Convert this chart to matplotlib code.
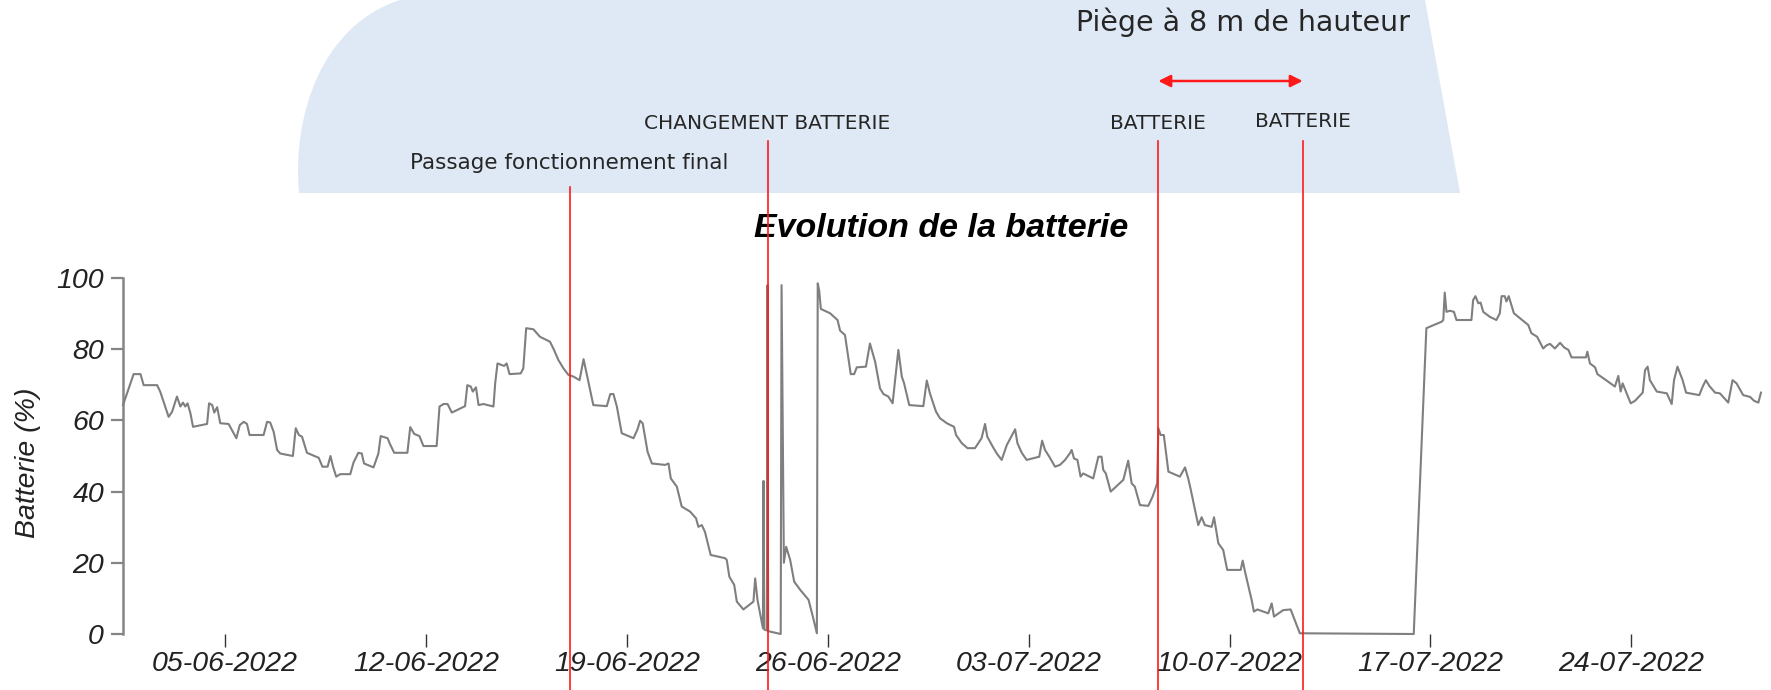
import matplotlib
matplotlib.use("Agg")
import matplotlib.pyplot as plt
import matplotlib.dates as mdates
import matplotlib.transforms as mtransforms
from matplotlib.path import Path
from matplotlib.patches import PathPatch
import pandas as pd

# battery level: days since 2022-06-01 00:00 / percent
start = pd.Timestamp("2022-06-01")

days_1 = [0.44, 0.81, 1.05, 1.16, 1.63, 1.74, 2.03, 2.15, 2.32, 2.44, 2.53, 2.61, 2.69, 2.79, 2.88,
          3.37, 3.44, 3.55, 3.62, 3.72, 3.83, 4.12, 4.39, 4.51, 4.65, 4.76, 4.85, 5.34, 5.46, 5.57,
          5.69, 5.81, 5.92, 6.36, 6.46, 6.57, 6.68, 6.85, 7.26, 7.39, 7.57, 7.67, 7.76, 7.87, 8.01, 8.36]
batt_1 = [64.3, 73.0, 73.0, 69.9, 69.9, 68.0, 61.0, 62.4, 66.7, 63.9, 65.0, 63.9, 64.8, 62.0, 58.2,
          59.0, 64.8, 64.3, 62.2, 63.7, 59.2, 59.0, 55.0, 58.7, 59.6, 59.0, 55.9, 55.9, 59.6, 59.4,
          56.8, 51.7, 50.7, 50.0, 57.8, 55.9, 55.4, 50.9, 49.5, 47.0, 47.0, 50.0, 47.0, 44.2, 44.9, 44.9]

days_2 = [8.47, 8.64, 8.76, 8.84, 9.17, 9.34, 9.42, 9.66, 9.73, 9.89, 10.35, 10.45, 10.59, 10.77, 10.91,
          11.37, 11.47, 11.61, 11.75, 11.90, 12.36, 12.44, 12.56, 12.63, 12.74, 12.83, 13.00, 13.35,
          13.41, 13.49, 13.72, 13.81, 13.91, 14.30, 14.39, 14.49, 14.74, 14.97, 15.32, 15.46, 15.61,
          15.79, 15.96, 16.14, 16.35, 16.49, 16.62, 16.72]
batt_2 = [48.1, 50.9, 50.7, 47.9, 46.8, 50.7, 55.6, 55.0, 53.6, 50.9, 50.9, 58.1, 56.2, 55.6, 52.8,
          52.8, 63.9, 64.6, 64.6, 62.2, 64.0, 69.9, 69.5, 68.1, 69.3, 64.3, 64.6, 63.9,
          70.4, 76.0, 75.3, 76.0, 73.0, 73.2, 74.6, 85.9, 85.6, 83.5, 82.1, 79.8, 77.0,
          74.6, 72.8, 72.3, 71.3, 77.2, 72.3, 68.5]

days_3 = [16.83, 17.30, 17.42, 17.53, 17.65, 17.82, 18.23, 18.37, 18.46, 18.55, 18.72, 18.87, 19.33,
          19.45, 19.53, 19.74, 19.91, 20.20, 20.41, 20.49, 20.61, 20.72, 20.92, 21.42, 21.48, 21.57,
          21.74, 21.83, 22.06, 22.41, 22.47, 22.55, 22.74, 22.76, 22.79, 22.88, 22.90, 22.92, 23.36,
          23.39, 23.47, 23.55, 23.69, 23.83, 24.04, 24.33, 24.48, 24.62, 24.65, 24.70, 24.76, 25.08]
batt_3 = [64.3, 64.0, 67.4, 67.4, 63.9, 56.4, 55.0, 57.5, 59.9, 59.2, 51.2, 47.9, 47.5,
          47.9, 43.7, 41.4, 35.8, 34.4, 32.5, 30.1, 30.6, 28.7, 22.2, 21.3, 20.8, 16.1,
          13.8, 9.1, 6.9, 9.1, 15.6, 9.6, 1.6, 43.0, 1.2, 1.0, 98.0, 0.8, 0.0,
          98.0, 20.0, 24.5, 20.8, 14.7, 12.4, 9.6, 4.9, 0.2, 98.5, 96.5, 91.3, 90.1]

days_4 = [25.34, 25.43, 25.60, 25.80, 25.92, 26.01, 26.33, 26.47, 26.65, 26.82, 26.94, 27.11, 27.26,
          27.46, 27.58, 27.66, 27.84, 28.33, 28.45, 28.56, 28.77, 28.91, 29.15, 29.40, 29.47, 29.67,
          29.87, 30.13, 30.36, 30.48, 30.56, 30.75, 30.89, 31.06, 31.24, 31.53, 31.61, 31.76, 31.93,
          32.37, 32.47, 32.57, 32.72, 32.92, 33.09, 33.27, 33.44]
batt_4 = [88.2, 85.2, 84.0, 73.0, 73.0, 74.9, 75.1, 81.6, 76.5, 69.0, 67.4, 66.7, 64.8,
          79.8, 72.3, 70.4, 64.3, 64.0, 71.2, 67.6, 62.5, 60.6, 59.2, 58.2, 55.9, 53.6,
          52.2, 52.2, 55.0, 59.0, 55.4, 52.6, 50.7, 48.9, 53.1, 57.5, 53.6, 50.9, 48.9,
          49.8, 54.3, 51.7, 49.8, 47.0, 47.5, 48.9, 50.8]

days_5 = [33.50, 33.58, 33.70, 33.81, 33.90, 34.25, 34.43, 34.54, 34.60, 34.69, 34.86, 35.30, 35.47,
          35.59, 35.70, 35.88, 36.17, 36.32, 36.48, 36.52, 36.60, 36.71, 36.87, 37.27, 37.45, 37.56,
          37.64, 37.91, 38.03, 38.14, 38.38, 38.46, 38.61, 38.78, 38.92, 39.39, 39.46, 39.54, 39.77,
          39.85, 39.97, 40.35, 40.47, 40.55, 40.87, 41.13, 41.45, 45.42]
batt_5 = [51.7, 49.3, 48.9, 44.2, 45.1, 43.7, 49.8, 49.8, 46.1, 45.1, 40.0, 43.3, 48.7,
          42.3, 41.4, 36.2, 36.0, 38.6, 42.3, 57.8, 55.9, 55.9, 45.6, 44.2, 46.8, 43.7,
          40.9, 30.6, 32.8, 30.6, 30.1, 32.8, 25.5, 23.6, 18.0, 18.0, 20.6, 17.5, 9.6,
          6.3, 6.9, 5.8, 8.6, 4.9, 6.7, 6.9, 0.2, 0.0]

days_6 = [45.86, 46.12, 46.39, 46.45, 46.50, 46.56, 46.68, 46.82, 46.91, 47.43, 47.49, 47.57, 47.67,
          47.75, 47.84, 48.07, 48.30, 48.42, 48.48, 48.59, 48.65, 48.73, 48.91, 49.12, 49.41, 49.52,
          49.72, 49.93, 50.05]
batt_6 = [85.9, 86.8, 87.7, 88.2, 95.9, 90.5, 90.8, 90.5, 88.2, 88.2, 93.8, 94.9, 92.9,
          93.1, 90.5, 89.1, 88.2, 90.1, 94.9, 94.9, 93.4, 94.9, 90.1, 88.7, 86.8, 84.5,
          83.5, 80.2, 81.1]

days_7 = [50.17, 50.34, 50.52, 50.66, 50.81, 50.92, 51.42, 51.47, 51.56, 51.74, 51.82, 52.14, 52.43,
          52.55, 52.63, 52.70, 52.84, 52.98, 53.13, 53.40, 53.48, 53.57, 53.65, 53.89, 54.24, 54.41,
          54.49, 54.61, 54.79, 54.91, 55.37, 55.49, 55.60, 55.72, 55.92, 56.09, 56.38, 56.53, 56.67,
          56.90, 57.14, 57.28, 57.43, 57.52]
batt_7 = [81.5, 80.2, 81.8, 80.5, 79.8, 77.7, 77.7, 79.3, 76.0, 74.9, 73.0, 71.2, 69.5,
          72.5, 68.1, 70.4, 67.6, 64.8, 65.5, 67.8, 74.1, 75.1, 71.3, 68.1, 67.6, 64.6,
          71.3, 75.1, 71.3, 67.8, 67.1, 69.5, 71.3, 69.7, 67.8, 67.6, 65.0, 71.3, 70.4,
          67.1, 66.6, 65.5, 65.0, 67.8]

# events marked with red lines (days since start)
event_days = [16.00, 22.90, 36.52, 41.55]
event_labels = ["Passage fonctionnement final", "CHANGEMENT BATTERIE", "BATTERIE", "BATTERIE"]
period_label = "Piège à 8 m de hauteur"

days = days_1 + days_2 + days_3 + days_4 + days_5 + days_6 + days_7
batt = batt_1 + batt_2 + batt_3 + batt_4 + batt_5 + batt_6 + batt_7
assert len(days) == len(batt)

dates = start + pd.to_timedelta(days, unit="D")
x = mdates.date2num(dates.to_pydatetime())
ev_x = mdates.date2num((start + pd.to_timedelta(event_days, unit="D")).to_pydatetime())

plt.rcParams["font.family"] = ["Liberation Sans", "DejaVu Sans"]
plt.rcParams["font.style"] = "italic"

W, H = 1771, 690
fig = plt.figure(figsize=(W / 100, H / 100), dpi=100)
fig.patch.set_facecolor("white")

# light blue banner behind the annotations (figure pixels)
verts = [(299, 193), (292, 115), (322, 25), (400, 0), (1425, 0), (1460, 193), (299, 193)]
codes = [Path.MOVETO, Path.CURVE4, Path.CURVE4, Path.CURVE4, Path.LINETO, Path.LINETO, Path.CLOSEPOLY]
verts = [(vx / W, 1 - vy / H) for vx, vy in verts]
fig.add_artist(PathPatch(Path(verts, codes), facecolor="#dfe9f5", edgecolor="none",
                         transform=fig.transFigure, zorder=0))

ax = fig.add_axes([123 / W, 1 - 634 / H, (W - 123) / W, 356 / H])
ax.set_facecolor("none")
ax.plot(x, batt, color="#7f7f7f", lw=1.5, clip_on=False, zorder=3)

ax.set_ylim(0, 100)
ax.set_xlim(x[0], mdates.date2num((start + pd.Timedelta(days=57.87)).to_pydatetime()))
ax.set_yticks([0, 20, 40, 60, 80, 100])
ax.xaxis.set_major_locator(mdates.WeekdayLocator(byweekday=mdates.SU))
ax.xaxis.set_major_formatter(mdates.DateFormatter("%d-%m-%Y"))

for s in ["top", "right", "bottom"]:
    ax.spines[s].set_visible(False)
ax.spines["left"].set_color("#858585")
ax.spines["left"].set_linewidth(1.8)
ax.tick_params(axis="y", direction="out", length=8.6, width=1.6, color="#858585", pad=5,
               labelsize=20.5, labelcolor="#222222")
ax.tick_params(axis="x", direction="out", length=9.4, width=1.0, color="#333333", pad=2.6,
               labelsize=20.5, labelcolor="#222222")

ax.set_ylabel("Batterie (%)", fontsize=20.5, color="#222222")
ax.yaxis.set_label_coords(-0.0495, 0.48)
ax.set_title("Evolution de la batterie", fontsize=24.5, fontweight="bold", style="italic",
             x=0.4964, y=1.115, pad=0)

# red markers, labels and arrow: x in data, y in figure fraction
trans = mtransforms.blended_transform_factory(ax.transData, fig.transFigure)
line_tops = [187, 141, 141, 141]
label_base = [169, 129, 129, 127]
label_size = [15.5, 14.5, 14.5, 14.5]
for ex, top, base, lab, fs in zip(ev_x, line_tops, label_base, event_labels, label_size):
    ax.plot([ex, ex], [0, 1 - top / H], transform=trans, color="#ff1a1a", lw=1.2,
            clip_on=False, zorder=4)
    ax.text(ex, 1 - base / H, lab, transform=trans, ha="center", va="baseline",
            fontsize=fs, family="DejaVu Sans", style="normal", color="#262626")

ax.annotate("", xy=(ev_x[3], 1 - 81 / H), xytext=(ev_x[2], 1 - 81 / H),
            xycoords=trans, textcoords=trans,
            arrowprops=dict(arrowstyle="<|-|>", color="#ff1a1a", lw=1.8,
                            mutation_scale=18, shrinkA=0, shrinkB=0))
fig.text(1243 / W, 1 - 31 / H, period_label, ha="center", va="baseline", fontsize=20.5,
         family="DejaVu Sans", style="normal", color="#262626")

fig.savefig("out.png", dpi=100)
